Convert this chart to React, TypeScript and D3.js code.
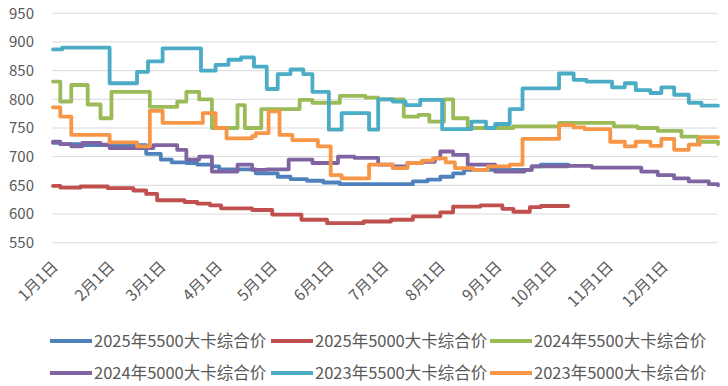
import { useEffect } from 'react';
import * as d3 from 'd3';

type Pt = [string, number];

// step breakpoints: [month-day, price]
const s2025_5500: Pt[] = [
  ['01-01', 724], ['01-05', 722], ['01-17', 720], ['02-21', 705], ['03-01', 695], ['03-07', 690],
  ['03-15', 689], ['03-21', 686], ['03-29', 683], ['04-02', 678], ['04-22', 671], ['05-04', 665],
  ['05-11', 661], ['05-20', 658], ['05-29', 655], ['06-07', 652], ['07-17', 657], ['07-25', 660],
  ['08-01', 665], ['08-08', 671], ['08-14', 677], ['09-20', 683], ['09-25', 686], ['10-10', 686],
];

const s2025_5000: Pt[] = [
  ['01-01', 649], ['01-05', 646], ['01-16', 648], ['01-31', 645], ['02-14', 641], ['02-21', 635],
  ['02-27', 624], ['03-14', 621], ['03-21', 618], ['03-28', 615], ['04-03', 610], ['04-20', 607],
  ['05-01', 599], ['05-17', 590], ['05-31', 584], ['06-20', 587], ['07-05', 590], ['07-17', 596],
  ['08-01', 603], ['08-08', 613], ['08-23', 615], ['09-04', 609], ['09-10', 604], ['09-19', 612],
  ['09-25', 614], ['10-10', 614],
];

const s2024_5500: Pt[] = [
  ['01-01', 831], ['01-05', 796], ['01-11', 825], ['01-20', 791], ['01-27', 767], ['02-02', 813],
  ['02-23', 787], ['03-10', 796], ['03-15', 813], ['03-22', 800], ['03-29', 750], ['04-12', 790],
  ['04-16', 750], ['04-25', 783], ['05-16', 799], ['05-23', 794], ['06-07', 806], ['06-21', 803],
  ['06-28', 800], ['07-12', 770], ['07-20', 773], ['07-26', 761], ['08-03', 800], ['08-08', 767],
  ['08-16', 750], ['09-10', 753], ['10-05', 759], ['11-04', 753], ['11-17', 750], ['11-28', 745],
  ['12-11', 735], ['12-20', 726], ['12-31', 722],
];

const s2024_5000: Pt[] = [
  ['01-01', 726], ['01-05', 722], ['01-11', 718], ['01-17', 724], ['01-27', 721], ['02-01', 715],
  ['02-25', 720], ['03-10', 712], ['03-15', 695], ['03-22', 700], ['03-29', 674], ['04-12', 686],
  ['04-20', 677], ['04-28', 678], ['05-10', 695], ['05-23', 689], ['06-06', 700], ['06-15', 698],
  ['06-28', 686], ['07-06', 683], ['07-14', 689], ['07-22', 691], ['07-29', 697], ['08-01', 709],
  ['08-08', 703], ['08-16', 686], ['08-31', 674], ['09-16', 677], ['09-20', 683], ['10-10', 684],
  ['10-23', 681], ['11-19', 674], ['11-28', 668], ['12-07', 662], ['12-15', 657], ['12-26', 652],
  ['12-31', 650],
];

const s2023_5500: Pt[] = [
  ['01-01', 887], ['01-06', 890], ['02-01', 828], ['02-16', 848], ['02-22', 866], ['03-02', 889],
  ['03-23', 850], ['03-31', 860], ['04-07', 869], ['04-14', 873], ['04-21', 857], ['04-28', 818],
  ['05-04', 844], ['05-11', 852], ['05-18', 844], ['05-23', 813], ['06-01', 747], ['06-08', 776],
  ['06-23', 747], ['06-28', 800], ['07-06', 796], ['07-13', 790], ['07-21', 799], ['08-02', 748],
  ['08-18', 761], ['08-26', 750], ['08-31', 757], ['09-08', 783], ['09-15', 819], ['10-05', 845],
  ['10-13', 834], ['10-20', 831], ['11-03', 821], ['11-10', 828], ['11-16', 816], ['11-24', 811],
  ['11-30', 821], ['12-07', 808], ['12-15', 794], ['12-22', 789], ['12-31', 789],
];

const s2023_5000: Pt[] = [
  ['01-01', 786], ['01-05', 770], ['01-11', 738], ['02-01', 725], ['02-16', 718], ['02-23', 780],
  ['03-02', 759], ['03-24', 776], ['03-31', 750], ['04-06', 732], ['04-20', 736], ['04-22', 741],
  ['04-29', 779], ['05-05', 738], ['05-12', 729], ['05-26', 718], ['06-02', 668], ['06-08', 662],
  ['06-23', 686], ['07-06', 680], ['07-14', 689], ['07-22', 693], ['07-28', 697], ['08-04', 690],
  ['08-09', 680], ['08-19', 677], ['08-27', 683], ['09-08', 686], ['09-15', 731], ['10-05', 755],
  ['10-13', 751], ['10-19', 748], ['11-02', 726], ['11-10', 718], ['11-16', 726], ['11-24', 719],
  ['11-30', 731], ['12-07', 712], ['12-15', 721], ['12-21', 734], ['12-31', 734],
];

const seriesNames = [
  '2025年5500大卡综合价', '2025年5000大卡综合价', '2024年5500大卡综合价',
  '2024年5000大卡综合价', '2023年5500大卡综合价', '2023年5000大卡综合价',
];
const seriesData = [s2025_5500, s2025_5000, s2024_5500, s2024_5000, s2023_5500, s2023_5000];
const colors = ['#4F81BD', '#C0504D', '#9BBB59', '#8064A2', '#4BACC6', '#F79646'];

const yTicks = [550, 600, 650, 700, 750, 800, 850, 900, 950];
const months = [1, 2, 3, 4, 5, 6, 7, 8, 9, 10, 11, 12];

const width = 728;
const height = 386;
const font = '"Noto Sans CJK SC", "Noto Sans", sans-serif';

const parse = d3.timeParse('%m-%d');
const toDate = (s: string) => parse(s) as Date;

export default function App() {
  useEffect(() => {
    document.body.style.margin = '0';
  }, []);

  const x = d3.scaleTime().domain([toDate('01-01'), toDate('12-31')]).range([53, 718]);
  const y = d3.scaleLinear().domain([550, 950]).range([242.7, 13.3]);

  const line = d3
    .line<Pt>()
    .x((d) => x(toDate(d[0])))
    .y((d) => y(d[1]))
    .curve(d3.curveStepAfter);

  const legendX = [50, 271, 490];
  const legendY = [341, 373];

  return (
    <svg width={width} height={height} style={{ display: 'block', background: '#fff' }}>
      {/* grid */}
      {yTicks.map((t) => (
        <g key={t}>
          <line x1={52.5} x2={717.5} y1={y(t)} y2={y(t)} stroke="#d9d9d9" strokeWidth={1} />
          <text
            x={34}
            y={y(t)}
            dy="0.35em"
            textAnchor="end"
            fontFamily={font}
            fontSize={15}
            fill="#595959"
          >
            {t}
          </text>
        </g>
      ))}

      {/* month labels */}
      {months.map((m) => {
        const xs = x(toDate(`${m}-01`));
        return (
          <text
            key={m}
            transform={`translate(${xs + 2},264) rotate(-45)`}
            dy="0.35em"
            textAnchor="end"
            fontFamily={font}
            fontSize={15.5}
            fill="#595959"
          >
            {`${m}月1日`}
          </text>
        );
      })}

      {/* series */}
      {seriesData.map((d, i) => (
        <path
          key={seriesNames[i]}
          d={line(d) ?? ''}
          fill="none"
          stroke={colors[i]}
          strokeWidth={3.8}
          strokeLinejoin="round"
          strokeLinecap="round"
        />
      ))}

      {/* legend */}
      {seriesNames.map((name, i) => {
        const lx = legendX[i % 3];
        const ly = legendY[Math.floor(i / 3)];
        return (
          <g key={name}>
            <line x1={lx} x2={lx + 42} y1={ly} y2={ly} stroke={colors[i]} strokeWidth={4} />
            <text
              x={lx + 44}
              y={ly}
              dy="0.35em"
              fontFamily={font}
              fontSize={16.5}
              fill="#595959"
            >
              {name}
            </text>
          </g>
        );
      })}
    </svg>
  );
}
